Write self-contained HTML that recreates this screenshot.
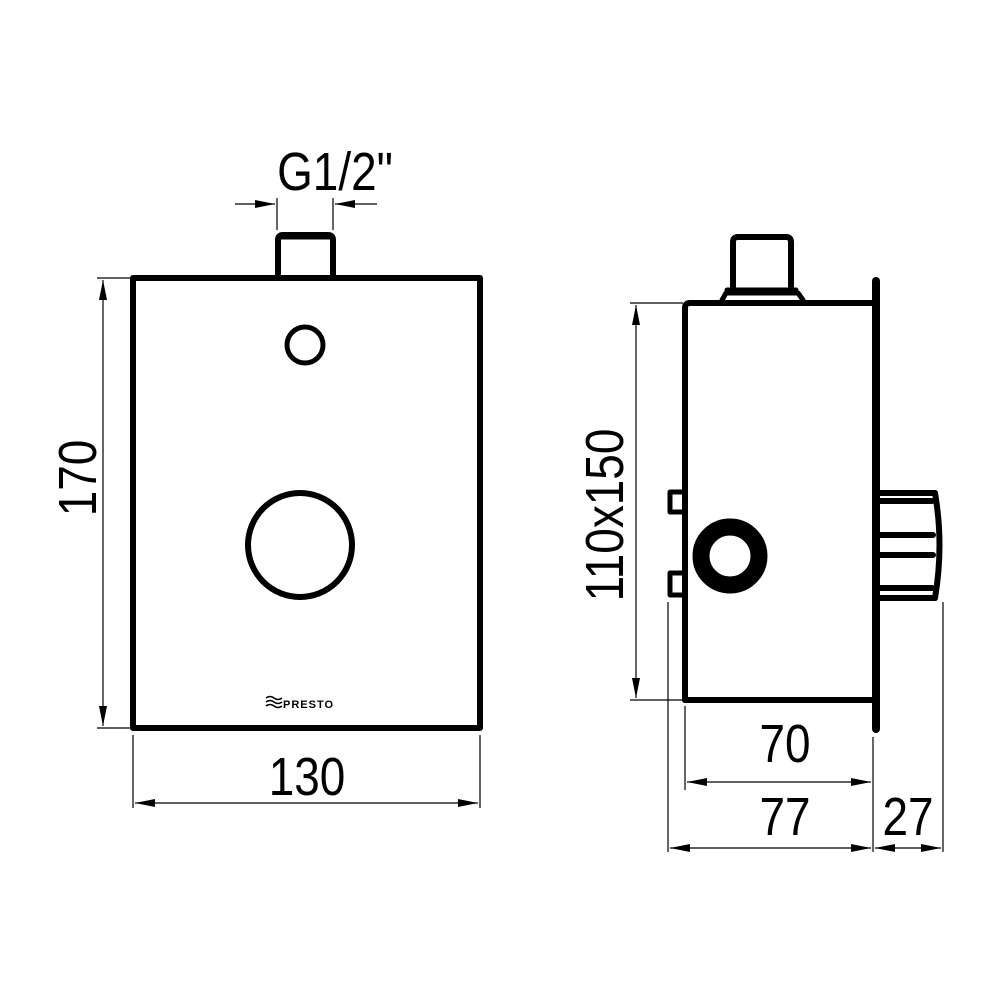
<!DOCTYPE html>
<html><head><meta charset="utf-8"><style>html,body{margin:0;padding:0;background:#fff}svg{display:block}</style></head><body>
<svg width="1000" height="1000" viewBox="0 0 1000 1000" xmlns="http://www.w3.org/2000/svg">
<defs>
<marker id="a" viewBox="0 0 20 8" refX="20" refY="4" markerWidth="20" markerHeight="8" markerUnits="userSpaceOnUse" orient="auto"><path d="M0,0 L20,4 L0,8 Z" fill="#000"/></marker>
</defs>
<g fill="none" stroke="#000" stroke-linejoin="round" stroke-linecap="round">
<rect x="133" y="278" width="347" height="450" stroke-width="6"/>
<path d="M278,276 L278,240 Q278,235 283,235 L328,235 Q333,235 333,240 L333,276" stroke-width="6"/>
<path d="M279,237 L332,237" stroke-width="5"/>
<circle cx="305" cy="345" r="18" stroke-width="5"/>
<circle cx="300" cy="545" r="52" stroke-width="6"/>
<path d="M685,700 L685,308 Q685,303 690,303 L873,303" stroke-width="6"/>
<path d="M685,700 L873,700" stroke-width="6"/>
<path d="M876,281 L876,729" stroke-width="8"/>
<path d="M733,287 L733,242 Q733,237 738,237 L786,237 Q791,237 791,242 L791,287" stroke-width="6"/>
<path d="M722,300 L726,293 L798,293 L803,300 M727,290 L796,290" stroke-width="5"/>
<path d="M685,492 L670,492 L670,512 L685,512 M685,573 L670,573 L670,595 L685,595" stroke-width="5"/>
<circle cx="730" cy="556" r="29" stroke-width="17"/>
<path d="M879,493 L935,493 Q944,545 935,598 L879,598 M880,501 L932,501 M880,535 L933,535 M880,555 L933,555 M880,588 L932,588" stroke-width="6"/>
</g>
<text x="283" y="708" font-family="Liberation Sans, sans-serif" font-size="11" font-weight="bold" letter-spacing="1">PRESTO</text>
<path d="M266,698 q4,-3 8,0 q4,3 8,0 M266,702 q4,-3 8,0 q4,3 8,0 M266,706 q4,-3 8,0 q4,3 8,0" stroke="#000" stroke-width="1.5" fill="none"/>
<g stroke="#000" stroke-width="1.2" fill="none">
<path d="M97,278 L130,278 M97,728 L130,728"/>
<path d="M103,500 L103,280" marker-end="url(#a)"/><path d="M103,500 L103,726" marker-end="url(#a)"/>
<path d="M133,735 L133,808 M480,735 L480,808"/>
<path d="M300,803 L135,803" marker-end="url(#a)"/><path d="M300,803 L478,803" marker-end="url(#a)"/>
<path d="M277,198 L277,230 M333,198 L333,230"/>
<path d="M235,204 L275,204" marker-end="url(#a)"/><path d="M377,204 L335,204" marker-end="url(#a)"/>
<path d="M630,303 L683,303 M630,700 L683,700"/>
<path d="M636,500 L636,305" marker-end="url(#a)"/><path d="M636,500 L636,698" marker-end="url(#a)"/>
<path d="M685,706 L685,790 M873,737 L873,852 M668,602 L668,852 M943,602 L943,852"/>
<path d="M780,782 L687,782" marker-end="url(#a)"/><path d="M780,782 L871,782" marker-end="url(#a)"/>
<path d="M780,848 L670,848" marker-end="url(#a)"/><path d="M780,848 L871,848" marker-end="url(#a)"/>
<path d="M908,848 L875,848" marker-end="url(#a)"/><path d="M908,848 L941,848" marker-end="url(#a)"/>
</g>
<g font-family="Liberation Sans, sans-serif" font-size="54" fill="#000" text-anchor="middle">
<text transform="translate(335,190) scale(0.85,1)">G1/2"</text>
<text transform="translate(307,795) scale(0.85,1)">130</text>
<text transform="translate(96,478) rotate(-90) scale(0.85,1)">170</text>
<text transform="translate(623,515) rotate(-90) scale(0.85,1)">110x150</text>
<text transform="translate(785,762) scale(0.85,1)">70</text>
<text transform="translate(785,835) scale(0.85,1)">77</text>
<text transform="translate(908,835) scale(0.85,1)">27</text>
</g>
</svg>
</body></html>
